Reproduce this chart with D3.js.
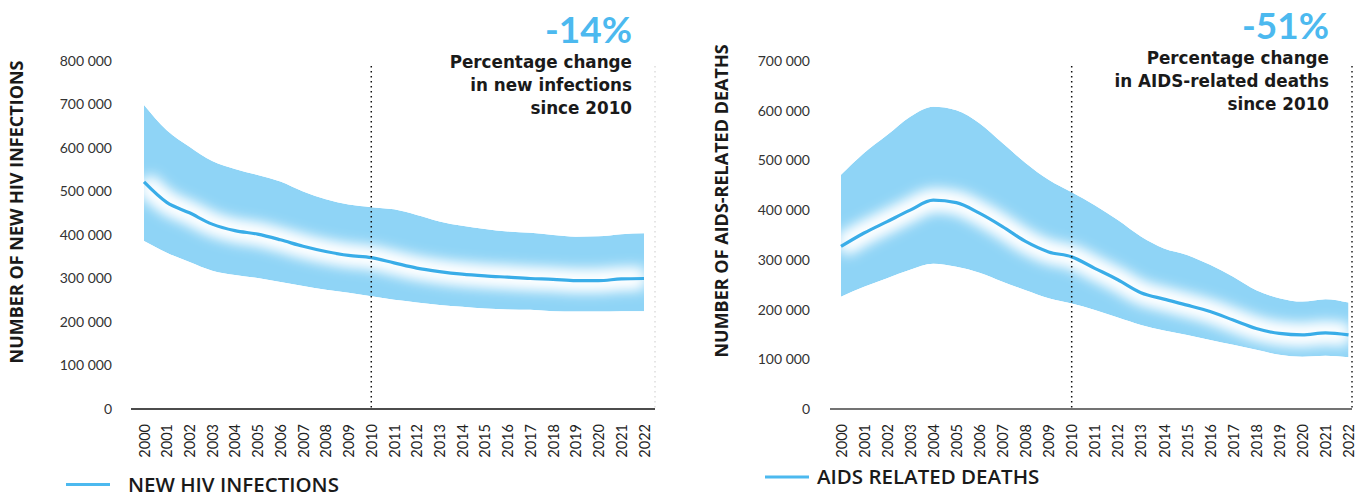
<!DOCTYPE html>
<html>
<head>
<meta charset="utf-8">
<script src="https://cdn.jsdelivr.net/npm/d3@7"></script>
<style>
  html, body { margin: 0; padding: 0; background: #fff; }
  svg { display: block; font-family: "Open Sans", Lato, sans-serif; }
</style>
</head>
<body>
<svg id="chart" width="1363" height="498"></svg>
<script>
// ---------- DATA ----------
const years = [2000, 2001, 2002, 2003, 2004, 2005, 2006, 2007, 2008, 2009, 2010,
  2011, 2012, 2013, 2014, 2015, 2016, 2017, 2018, 2019, 2020, 2021, 2022];

const infectionsCentral = [522000, 475000, 451000, 425000, 410000, 402000, 389000, 374000, 362000, 353000, 348000,
  336000, 324000, 316000, 310000, 306000, 303000, 300000, 298000, 295000, 295000, 299000, 300000];
const infectionsHigh = [699000, 641000, 603000, 570000, 552000, 538000, 523000, 500000, 482000, 470000, 464000,
  459000, 446000, 431000, 421000, 414000, 408000, 405000, 400000, 396000, 397000, 402000, 404000];
const infectionsLow = [386000, 359000, 338000, 318000, 308000, 301000, 292000, 283000, 274000, 267000, 259000,
  251000, 245000, 239000, 235000, 231000, 229000, 228000, 225000, 224000, 224000, 225000, 225000];

const deathsCentral = [327000, 354000, 377000, 400000, 420000, 415000, 394000, 367000, 337000, 316000, 306000,
  283000, 260000, 234000, 221000, 209000, 196000, 179000, 162000, 152000, 149000, 153000, 149000];
const deathsHigh = [471000, 515000, 551000, 588000, 608000, 601000, 575000, 535000, 495000, 461000, 436000,
  410000, 380000, 347000, 323000, 310000, 290000, 266000, 239000, 223000, 216000, 221000, 214000];
const deathsLow = [226000, 246000, 263000, 280000, 292000, 286000, 274000, 256000, 239000, 223000, 212000,
  199000, 184000, 169000, 158000, 149000, 139000, 129000, 119000, 109000, 105000, 107000, 104000];

const infectionsTicks = [0, 100000, 200000, 300000, 400000, 500000, 600000, 700000, 800000];
const deathsTicks = [0, 100000, 200000, 300000, 400000, 500000, 600000, 700000];

const infectionsTitle = "NUMBER OF NEW HIV INFECTIONS";
const deathsTitle = "NUMBER OF AIDS-RELATED DEATHS";
const infectionsLegend = "NEW HIV INFECTIONS";
const deathsLegend = "AIDS RELATED DEATHS";
const infectionsChange = "-14%";
const deathsChange = "-51%";
const infectionsNote = ["Percentage change", "in new infections", "since 2010"];
const deathsNote = ["Percentage change", "in AIDS-related deaths", "since 2010"];
const referenceYear = 2010;

// ---------- STYLE ----------
const bandColor = "#8fd4f6";
const lineColor = "#39ade8";
const accent = "#4cb9ef";
const textDark = "#1a1a1a";

const svg = d3.select("#chart");
const defs = svg.append("defs");
const glow = defs.append("filter").attr("id", "glow")
  .attr("filterUnits", "userSpaceOnUse")
  .attr("x", 0).attr("y", 0).attr("width", 1363).attr("height", 498);
glow.append("feGaussianBlur").attr("stdDeviation", 7);

const fmt = d => d === 0 ? "0" : d3.format(",")(d).replace(/,/g, " ");

function drawChart(cfg) {
  const x = d3.scaleLinear().domain([years[0], years[years.length - 1]]).range(cfg.xRange);
  const y = d3.scaleLinear().domain([0, cfg.ticks[cfg.ticks.length - 1]]).range([409, 61]);
  const rows = years.map((yr, i) => ({ yr, c: cfg.central[i], lo: cfg.low[i], hi: cfg.high[i] }));

  const area = d3.area().x(d => x(d.yr)).y0(d => y(d.lo)).y1(d => y(d.hi)).curve(d3.curveMonotoneX);
  const line = d3.line().x(d => x(d.yr)).y(d => y(d.c)).curve(d3.curveMonotoneX);

  const clipId = "clip-" + cfg.id;
  defs.append("clipPath").attr("id", clipId).append("path").attr("d", area(rows));

  const band = svg.append("g").attr("clip-path", `url(#${clipId})`);
  band.append("path").attr("d", area(rows)).attr("fill", bandColor);
  band.append("path").attr("d", line(rows)).attr("fill", "none")
    .attr("stroke", "#fff").attr("stroke-width", 22).attr("filter", "url(#glow)");
  band.append("path").attr("d", line(rows)).attr("fill", "none")
    .attr("stroke", "#fff").attr("stroke-width", 10).attr("filter", "url(#glow)");

  svg.append("path").attr("d", line(rows)).attr("fill", "none")
    .attr("stroke", lineColor).attr("stroke-width", 3.2).attr("stroke-linejoin", "round");

  // reference lines
  svg.append("line")
    .attr("x1", x(referenceYear)).attr("x2", x(referenceYear))
    .attr("y1", 66).attr("y2", 409)
    .attr("stroke", "#111").attr("stroke-width", 1.5).attr("stroke-dasharray", "1.5 3.5");
  svg.append("line")
    .attr("x1", cfg.axisEnd).attr("x2", cfg.axisEnd)
    .attr("y1", 66).attr("y2", 409)
    .attr("stroke", cfg.endColor).attr("stroke-width", 1.5).attr("stroke-dasharray", "1.5 3.5");

  // y axis labels
  const ya = svg.append("g").attr("transform", `translate(${cfg.yLabelX},0)`)
    .call(d3.axisLeft(y).tickValues(cfg.ticks).tickSize(0).tickPadding(0).tickFormat(fmt));
  ya.select(".domain").remove();
  ya.selectAll("text").attr("font-family", "Lato, sans-serif").attr("font-size", 14)
    .attr("fill", "#333");

  // x axis
  svg.append("line").attr("x1", cfg.axisStart).attr("x2", cfg.axisEnd)
    .attr("y1", 409).attr("y2", 409).attr("stroke", cfg.axisColor).attr("stroke-width", 1.6);
  const xa = svg.append("g").attr("transform", "translate(0,409)")
    .call(d3.axisBottom(x).tickValues(years).tickSize(0).tickFormat(d3.format("d")));
  xa.select(".domain").remove();
  xa.selectAll("text")
    .attr("font-family", "Lato, sans-serif").attr("font-size", 14.5).attr("fill", "#222")
    .attr("transform", "rotate(-90)")
    .attr("text-anchor", "end")
    .attr("x", -15).attr("y", 0).attr("dy", "0.35em");

  // y title
  svg.append("text")
    .attr("transform", `translate(${cfg.titleX},${cfg.titleY}) rotate(-90)`)
    .attr("text-anchor", "middle").attr("dy", "0.36em")
    .attr("font-size", 18).attr("font-weight", 700).attr("fill", textDark)
    .text(cfg.title);

  // annotation
  svg.append("text").attr("x", cfg.noteX).attr("y", cfg.noteY0 - 25)
    .attr("text-anchor", "end")
    .attr("font-family", "Lato, sans-serif").attr("font-size", 37).attr("font-weight", 700)
    .attr("fill", accent).text(cfg.change);
  cfg.note.forEach((t, i) => {
    svg.append("text").attr("x", cfg.noteX).attr("y", cfg.noteY0 + i * 23)
      .attr("text-anchor", "end")
      .attr("font-family", "'DejaVu Sans', sans-serif")
      .attr("font-size", 16.8).attr("font-weight", 700)
      .attr("fill", textDark).text(t);
  });

  // legend
  svg.append("line").attr("x1", cfg.legX).attr("x2", cfg.legX + 44)
    .attr("y1", cfg.legY).attr("y2", cfg.legY)
    .attr("stroke", accent).attr("stroke-width", 3);
  svg.append("text").attr("x", cfg.legTextX).attr("y", cfg.legY).attr("dy", "0.35em")
    .attr("font-size", 20.5).attr("font-weight", 600).attr("fill", textDark)
    .text(cfg.legend);
}

drawChart({
  id: "inf", xRange: [144, 644], ticks: infectionsTicks,
  central: infectionsCentral, low: infectionsLow, high: infectionsHigh,
  axisStart: 131, axisEnd: 655, axisColor: "#111", endColor: "#ddd",
  yLabelX: 112, titleX: 17, titleY: 212, title: infectionsTitle,
  noteX: 632, noteY0: 68, change: infectionsChange, note: infectionsNote,
  legX: 66, legY: 484.5, legTextX: 128, legend: infectionsLegend
});

drawChart({
  id: "dth", xRange: [841, 1348.5], ticks: deathsTicks,
  central: deathsCentral, low: deathsLow, high: deathsHigh,
  axisStart: 830, axisEnd: 1352, axisColor: "#444", endColor: "#222",
  yLabelX: 810, titleX: 722, titleY: 201, title: deathsTitle,
  noteX: 1329, noteY0: 64, change: deathsChange, note: deathsNote,
  legX: 765, legY: 477, legTextX: 817, legend: deathsLegend
});
</script>
</body>
</html>
